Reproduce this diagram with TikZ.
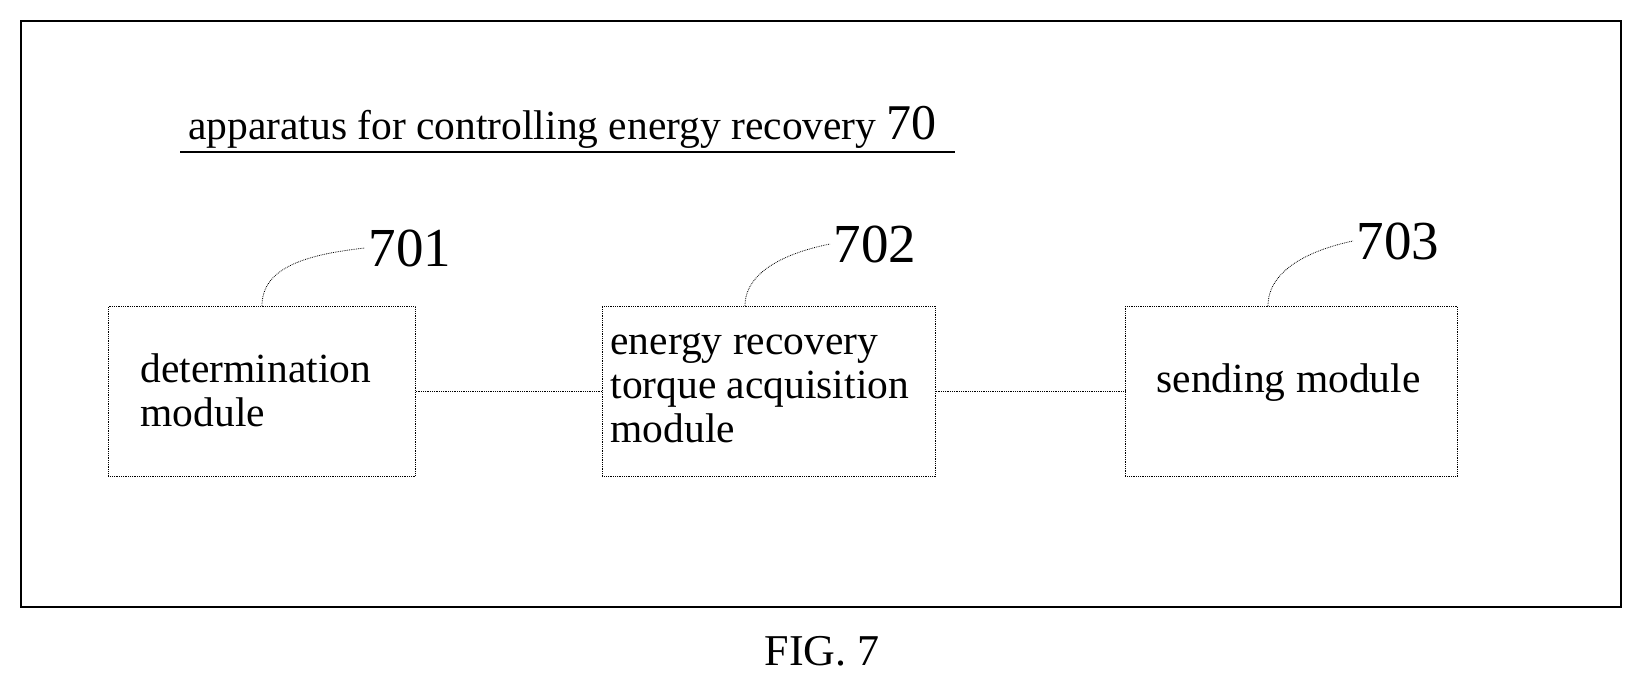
\documentclass[tikz,border=0pt]{standalone}
\usepackage{fontspec}
\setmainfont{Liberation Serif}
\begin{document}
\begin{tikzpicture}[x=1pt,y=-1pt,
  box/.style={draw,densely dotted,line width=0.8pt,minimum width=307pt,minimum height=170pt,anchor=north west,inner sep=0pt},
  txt/.style={font=\fontsize{41.5}{44}\selectfont,align=left},
  num/.style={font=\fontsize{55}{58}\selectfont},
  lead/.style={densely dotted,line width=0.8pt}]
\useasboundingbox (0,0) rectangle (1642,689);
\draw[line width=1.5pt] (21,21) rectangle (1621,607);
\node[txt,anchor=base west,inner sep=0pt] (title) at (188,139) {apparatus for controlling energy recovery \fontsize{50}{54}\selectfont 70};
\draw[line width=1.5pt] (180,152) -- (955,152);
\node[box] (b1) at (108,306) {};
\node[box,minimum width=333pt] (b2) at (602,306) {};
\node[box,minimum width=332pt] (b3) at (1125,306) {};
\node[txt,anchor=west] (t1) at (137,390) {determination\\module};
\node[txt,anchor=west] (t2) at (607,388) {energy recovery\\torque acquisition\\module};
\node[txt,anchor=west] (t3) at (1153,383) {sending module};
\draw[lead] (b1.east) -- (b2.west);
\draw[lead] (b2.east) |- (b3.west);
\node[num,anchor=west] (n1) at (365,248) {701};
\node[num,anchor=west] (n2) at (830,244) {702};
\node[num,anchor=west] (n3) at (1353,241) {703};
\draw[lead] (262,306) .. controls (262,270) and (300,255) .. (n1.west);
\draw[lead] (745,306) .. controls (745,270) and (790,252) .. (n2.west);
\draw[lead] (1268,306) .. controls (1268,270) and (1310,250) .. (n3.west);
\node[font=\fontsize{44}{48}\selectfont] (fig) at (822,651) {FIG. 7};
\end{tikzpicture}
\end{document}
